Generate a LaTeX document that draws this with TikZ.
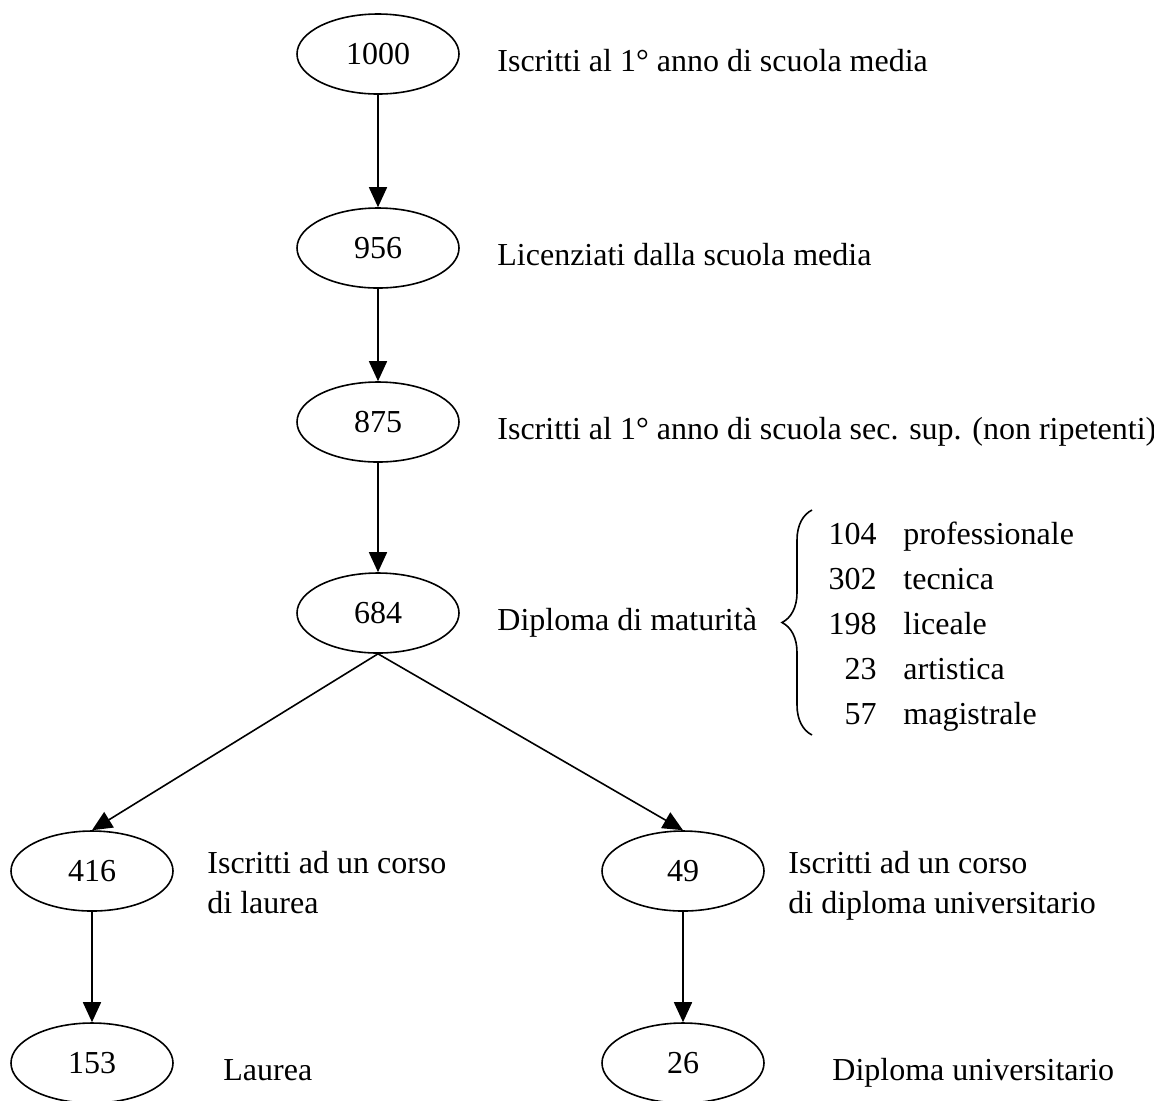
\documentclass[tikz,border=0pt]{standalone}
\usepackage{fontspec}
\setmainfont{Liberation Serif}
\usetikzlibrary{positioning,shapes.geometric,arrows.meta,decorations.pathreplacing}
\tikzset{
  every cohort/.style={draw, ellipse, line width=0.8pt, minimum width=81pt,
    minimum height=40pt, inner sep=0pt},
  every caption/.style={anchor=base west, inner sep=0pt},
}

\begin{document}
\begin{tikzpicture}[x=0.5pt, y=-0.5pt, >={Triangle[length=10pt,width=9pt]},
  font=\fontsize{16}{20}\selectfont]
\useasboundingbox (0,0) rectangle (1154,1100);
\foreach \m/\y [count=\i] in {1000/54,956/248,875/422,684/613}
  \node [every cohort/.try] (level-\i) at (378,\y) {\m};
\foreach \l/\y [count=\i] in {Iscritti al 1° anno di scuola media/71,
    Licenziati dalla scuola media/265,
    Iscritti al 1° anno di scuola sec. sup. (non ripetenti)/439,
    Diploma di maturità/630}
  \node [every caption/.try] (caption-\i) at (497,\y) {\l};
\foreach \i/\j in {1/2,2/3,3/4}
  \draw [line width=0.8pt, ->] (level-\i) -- (level-\j);
% breakdown of the diplomas
\foreach \n/\w [count=\i] in {104/professionale,302/tecnica,198/liceale,23/artistica,57/magistrale} {
  \node [every caption/.try, anchor=base east] (num-\i) at (877,499+45*\i) {\n};
  \node [every caption/.try] (kind-\i) at (903,499+45*\i) {\w};
}
\coordinate (brace-bottom) at (812,735);
\coordinate (brace-top) at (812,510);
\draw [line width=0.8pt, decorate, decoration={brace, amplitude=15pt}]
  (brace-bottom) -- (brace-top);
% university
\foreach \m/\x [count=\i] in {416/92,49/683}
  \node [every cohort/.try] (branch-\i) at (\x,871) {\m};
\foreach \m/\x [count=\i] in {153/92,26/683}
  \node [every cohort/.try] (final-\i) at (\x,1063) {\m};
\foreach \i in {1,2} {
  \draw [line width=0.8pt, ->] (level-4.south) -- (branch-\i.north);
  \draw [line width=0.8pt, ->] (branch-\i) -- (final-\i);
}
\node [every caption/.try, anchor=north west, align=left] (branch-caption-1) at (207,851)
  {Iscritti ad un corso\\di laurea};
\node [every caption/.try, anchor=north west, align=left] (branch-caption-2) at (788,851)
  {Iscritti ad un corso\\di diploma universitario};
\node [every caption/.try] (final-caption-1) at (223,1080) {Laurea};
\node [every caption/.try] (final-caption-2) at (832,1080) {Diploma universitario};
\end{tikzpicture}
\end{document}
